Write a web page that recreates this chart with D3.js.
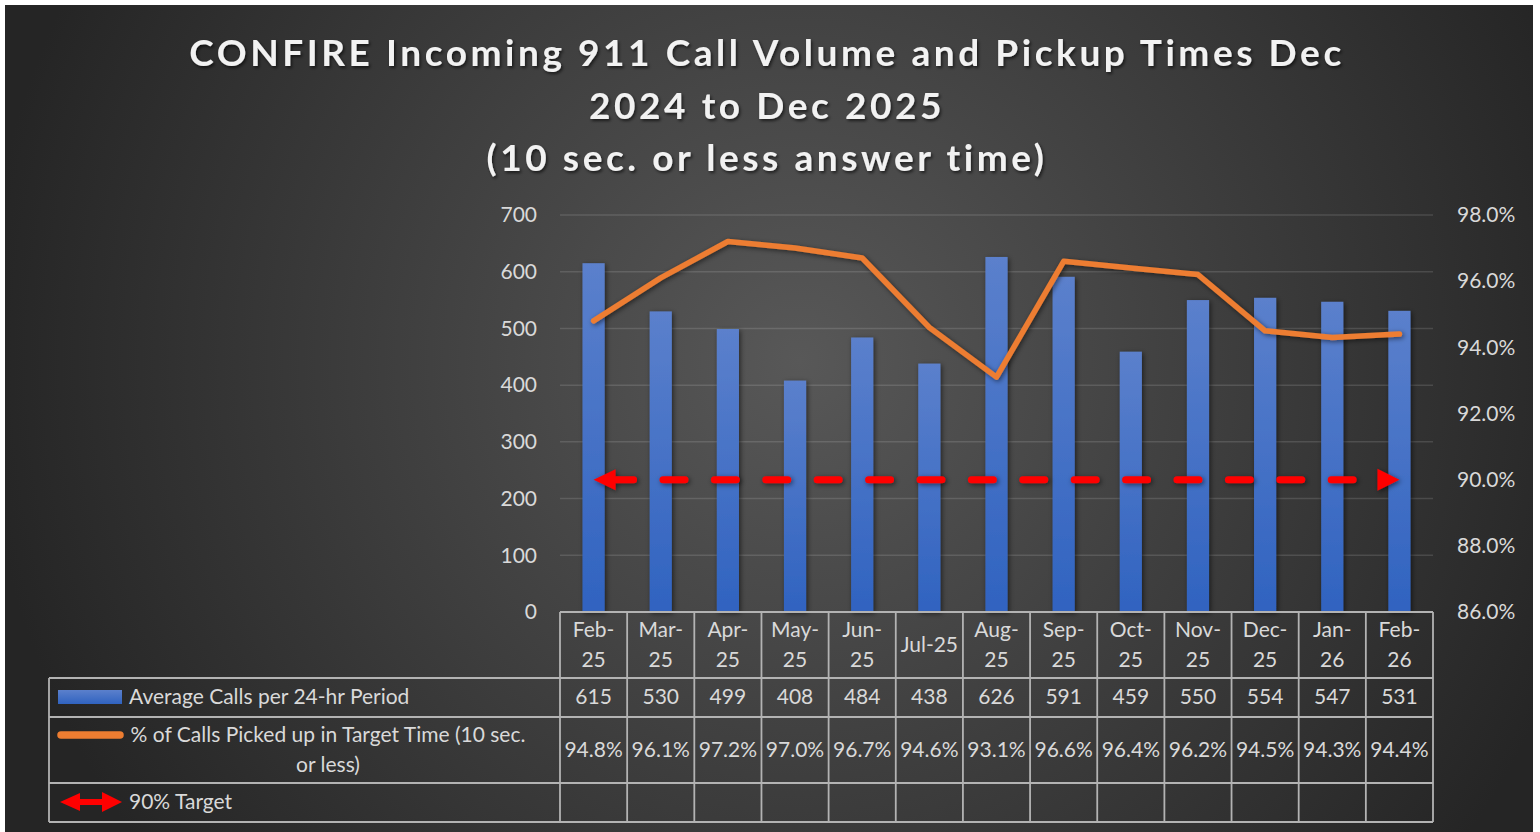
<!DOCTYPE html>
<html>
<head>
<meta charset="utf-8">
<script src="https://cdn.jsdelivr.net/npm/d3@7"></script>
<style>
  body { margin:0; background:#fff; }
  svg { display:block; }
  text { font-family: Lato, "Open Sans", sans-serif; }
</style>
</head>
<body>
<div id="chart"></div>
<script>
// data
var months = ['Feb-25','Mar-25','Apr-25','May-25','Jun-25','Jul-25','Aug-25','Sep-25','Oct-25','Nov-25','Dec-25','Jan-26','Feb-26'];
var monthLines = [['Feb-','25'],['Mar-','25'],['Apr-','25'],['May-','25'],['Jun-','25'],['Jul-25'],['Aug-','25'],['Sep-','25'],['Oct-','25'],['Nov-','25'],['Dec-','25'],['Jan-','26'],['Feb-','26']];
var calls = [615,530,499,408,484,438,626,591,459,550,554,547,531];
var pct = [0.948,0.961,0.972,0.970,0.967,0.946,0.931,0.966,0.964,0.962,0.945,0.943,0.944];
var target = 0.90;
var leftTicks = [0,100,200,300,400,500,600,700];
var rightTicks = [0.86,0.88,0.90,0.92,0.94,0.96,0.98];
var titleLines = ['CONFIRE Incoming 911 Call Volume and Pickup Times Dec','2024 to Dec 2025','(10 sec. or less answer time)'];
var seriesNames = ['Average Calls per 24-hr Period','% of Calls Picked up in Target Time (10 sec.|or less)','90% Target'];

var W = 1540, H = 832;
var txt = '#d9d9d9';
var fs = 21;

var svg = d3.select('#chart').append('svg').attr('width',W).attr('height',H);
var defs = svg.append('defs');

var bg = defs.append('radialGradient').attr('id','bg')
  .attr('gradientUnits','userSpaceOnUse').attr('cx',800).attr('cy',360).attr('r',820);
bg.append('stop').attr('offset','0%').attr('stop-color','#585858');
bg.append('stop').attr('offset','100%').attr('stop-color','#252525');

var barG = defs.append('linearGradient').attr('id','barG').attr('x1',0).attr('y1',0).attr('x2',0).attr('y2',1);
barG.append('stop').attr('offset','0%').attr('stop-color','#5b80cc');
barG.append('stop').attr('offset','100%').attr('stop-color','#3063c0');

var sh = defs.append('filter').attr('id','sh').attr('x','-50%').attr('y','-50%').attr('width','200%').attr('height','200%');
sh.append('feDropShadow').attr('dx',1.5).attr('dy',1.5).attr('stdDeviation',2.5).attr('flood-color','#000').attr('flood-opacity',0.55);
var tsh = defs.append('filter').attr('id','tsh').attr('x','-10%').attr('y','-30%').attr('width','120%').attr('height','160%');
tsh.append('feDropShadow').attr('dx',1.5).attr('dy',2).attr('stdDeviation',1.5).attr('flood-color','#000').attr('flood-opacity',0.6);

svg.append('rect').attr('x',5).attr('y',5).attr('width',1528).attr('height',H-5).attr('fill','url(#bg)');

// title
var title = svg.append('g').attr('filter','url(#tsh)');
var tl = title.selectAll('text').data(titleLines).enter().append('text')
  .attr('x',767).attr('y',function(d,i){ return 66 + i*52.5; })
  .attr('text-anchor','middle')
  .attr('font-size',37).attr('font-weight','bold').attr('fill','#f2f2f2')
  .text(function(d){ return d; });
var w0 = tl.node().getComputedTextLength();
var ls = (1152 - w0) / (titleLines[0].length - 1);
tl.attr('letter-spacing', ls);

// scales
var plotL = 560, plotR = 1433, plotT = 215, plotB = 612;
var x = d3.scaleBand().domain(months).range([plotL, plotR]).padding(0);
var step = x.bandwidth();
var cx = function(m){ return x(m) + step/2; };
var yL = d3.scaleLinear().domain([0,700]).range([plotB, plotT]);
var yR = d3.scaleLinear().domain([0.86,0.98]).range([plotB, plotT]);

// gridlines
svg.append('g').selectAll('line').data(leftTicks.slice(1)).enter().append('line')
  .attr('x1',plotL).attr('x2',plotR)
  .attr('y1',function(d){ return yL(d); }).attr('y2',function(d){ return yL(d); })
  .attr('stroke','rgba(255,255,255,0.13)').attr('stroke-width',1.5);

// axes
var axL = svg.append('g').attr('transform','translate('+plotL+',0)')
  .call(d3.axisLeft(yL).tickValues(leftTicks).tickSize(0).tickPadding(23));
var axR = svg.append('g').attr('transform','translate('+plotR+',0)')
  .call(d3.axisRight(yR).tickValues(rightTicks).tickSize(0).tickPadding(24).tickFormat(d3.format('.1%')));
[axL, axR].forEach(function(a){
  a.select('.domain').remove();
  a.selectAll('text').attr('font-size',fs).attr('fill',txt).style('font-family','Lato, sans-serif');
});

// bars
var barW = step * 0.33;
svg.append('g').attr('filter','url(#sh)').selectAll('rect').data(calls).enter().append('rect')
  .attr('x',function(d,i){ return cx(months[i]) - barW/2; })
  .attr('y',function(d){ return yL(d); })
  .attr('width',barW)
  .attr('height',function(d){ return plotB - yL(d); })
  .attr('fill','url(#barG)');

// target line
var tY = yR(target);
var xa = cx(months[0]), xb = cx(months[months.length-1]);
var tg = svg.append('g').attr('filter','url(#sh)');
tg.append('line').attr('x1',xa+18).attr('x2',xb-22).attr('y1',tY).attr('y2',tY)
  .attr('stroke','#ff0000').attr('stroke-width',7).attr('stroke-linecap','round')
  .attr('stroke-dasharray','22 29.4');
tg.append('path').attr('d','M'+xa+','+tY+'L'+(xa+22)+','+(tY-10.5)+'L'+(xa+22)+','+(tY+10.5)+'Z').attr('fill','#ff0000');
tg.append('path').attr('d','M'+xb+','+tY+'L'+(xb-22)+','+(tY-11)+'L'+(xb-22)+','+(tY+11)+'Z').attr('fill','#ff0000');

// pct line
var line = d3.line().x(function(d,i){ return cx(months[i]); }).y(function(d){ return yR(d); });
svg.append('path').datum(pct).attr('d',line).attr('fill','none')
  .attr('stroke','#ed7d31').attr('stroke-width',5.5).attr('stroke-linejoin','round').attr('stroke-linecap','round')
  .attr('filter','url(#sh)');

// data table
var tblL = 49;
var rows = [612, 678, 717, 783, 822];
var grid = svg.append('g').attr('stroke','#b3b3b3').attr('stroke-width',1.8).attr('fill','none');
grid.append('line').attr('x1',plotL).attr('x2',plotR).attr('y1',rows[0]).attr('y2',rows[0]);
rows.slice(1).forEach(function(r){
  grid.append('line').attr('x1',tblL).attr('x2',plotR).attr('y1',r).attr('y2',r);
});
grid.append('line').attr('x1',tblL).attr('x2',tblL).attr('y1',rows[1]).attr('y2',rows[4]);
months.concat(['end']).forEach(function(m,i){
  var xx = i < months.length ? x(m) : plotR;
  grid.append('line').attr('x1',xx).attr('x2',xx).attr('y1',rows[0]).attr('y2',rows[4]);
});

var tbl = svg.append('g').attr('fill',txt).attr('font-size',fs).attr('text-anchor','middle');
monthLines.forEach(function(parts,i){
  if (parts.length === 1) {
    tbl.append('text').attr('x',cx(months[i])).attr('y',645).attr('dy','0.35em').text(parts[0]);
  } else {
    parts.forEach(function(s,j){
      tbl.append('text').attr('x',cx(months[i])).attr('y',630 + j*30).attr('dy','0.35em').text(s);
    });
  }
});
tbl.selectAll('.calls').data(calls).enter().append('text').attr('class','calls')
  .attr('x',function(d,i){ return cx(months[i]); }).attr('y',697).attr('dy','0.35em')
  .text(function(d){ return d; });
tbl.selectAll('.pct').data(pct).enter().append('text').attr('class','pct')
  .attr('x',function(d,i){ return cx(months[i]); }).attr('y',750).attr('dy','0.35em')
  .text(function(d){ return d3.format('.1%')(d); });

// legend keys in table
var lg = svg.append('g');
lg.append('rect').attr('x',58).attr('y',690).attr('width',64).attr('height',14).attr('fill','url(#barG)');
lg.append('line').attr('x1',61).attr('x2',120).attr('y1',735).attr('y2',735)
  .attr('stroke','#ed7d31').attr('stroke-width',7.5).attr('stroke-linecap','round');
lg.append('line').attr('x1',78).attr('x2',103).attr('y1',802).attr('y2',802)
  .attr('stroke','#ff0000').attr('stroke-width',6).attr('stroke-linecap','round');
lg.append('path').attr('d','M60,802L80,793L80,811Z').attr('fill','#ff0000');
lg.append('path').attr('d','M122,802L102,792L102,812Z').attr('fill','#ff0000');

var lt = svg.append('g').attr('fill',txt).attr('font-size',fs);
lt.append('text').attr('x',129).attr('y',697).attr('dy','0.35em').text(seriesNames[0]);
var s2 = seriesNames[1].split('|');
s2.forEach(function(s,j){
  lt.append('text').attr('x',328).attr('y',735 + j*30).attr('dy','0.35em').attr('text-anchor','middle').text(s);
});
lt.append('text').attr('x',129).attr('y',802).attr('dy','0.35em').text(seriesNames[2]);
</script>
</body>
</html>
